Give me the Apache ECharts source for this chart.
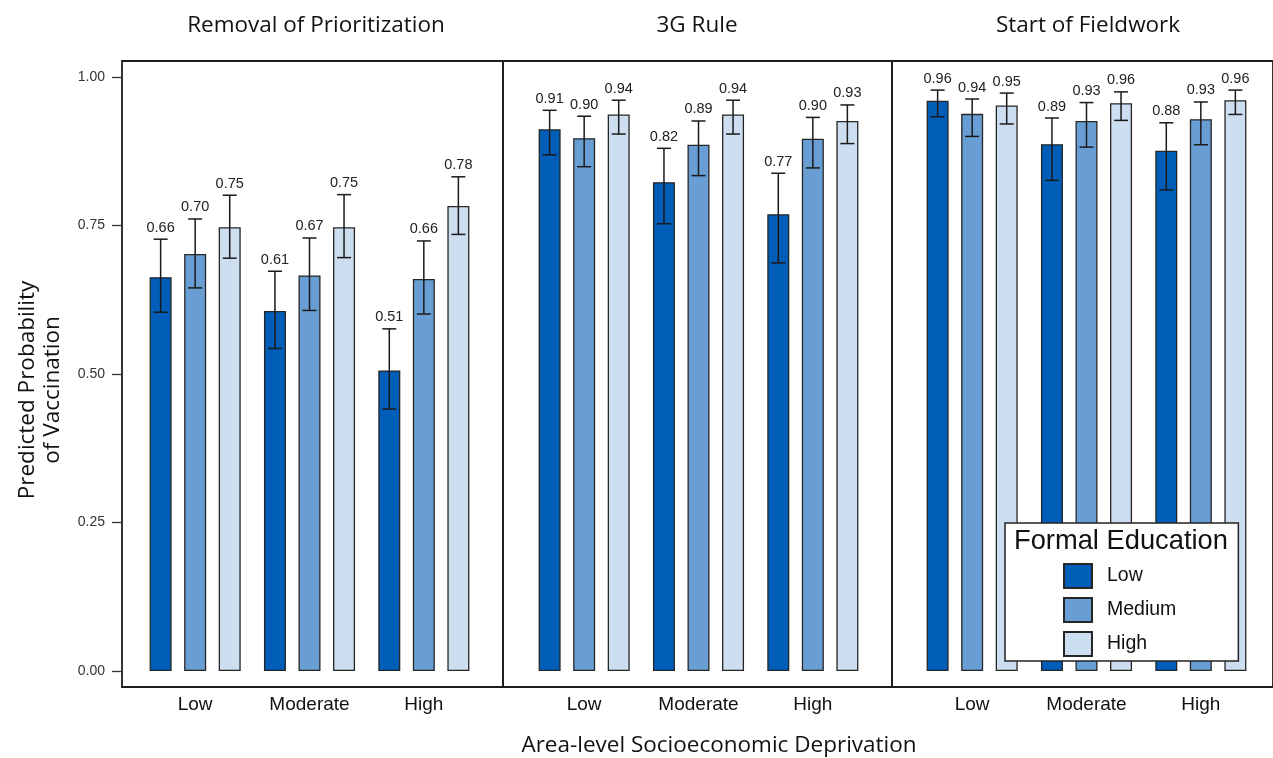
<!DOCTYPE html>
<html>
<head>
<meta charset="utf-8">
<script src="https://cdn.jsdelivr.net/npm/echarts@6/dist/echarts.min.js"></script>
<style>
  html, body { margin: 0; padding: 0; background: #fff; }
  #chart { width: 1273px; height: 758px; }
</style>
</head>
<body>
<div id="chart"></div>
<script>
// Categories
const deprivation = ['Low', 'Moderate', 'High'];
const education = ['Low', 'Medium', 'High'];
const panels = ['Removal of Prioritization', '3G Rule', 'Start of Fieldwork'];
const yTicks = [0, 0.25, 0.5, 0.75, 1];

// Removal of Prioritization: predicted probability and 95% CI per deprivation level
const removalLow = [0.663, 0.606, 0.506];
const removalMedium = [0.702, 0.666, 0.660];
const removalHigh = [0.747, 0.747, 0.783];
const removalLowCI = [[0.604, 0.727], [0.543, 0.673], [0.441, 0.576]];
const removalMediumCI = [[0.645, 0.761], [0.607, 0.729], [0.601, 0.724]];
const removalHighCI = [[0.695, 0.801], [0.696, 0.802], [0.735, 0.832]];

// 3G Rule
const ruleLow = [0.912, 0.823, 0.769];
const ruleMedium = [0.897, 0.886, 0.896];
const ruleHigh = [0.937, 0.937, 0.926];
const ruleLowCI = [[0.869, 0.944], [0.753, 0.880], [0.687, 0.838]];
const ruleMediumCI = [[0.849, 0.934], [0.834, 0.926], [0.847, 0.932]];
const ruleHighCI = [[0.904, 0.961], [0.904, 0.961], [0.888, 0.953]];

// Start of Fieldwork
const fieldLow = [0.960, 0.887, 0.876];
const fieldMedium = [0.938, 0.926, 0.929];
const fieldHigh = [0.952, 0.956, 0.961];
const fieldLowCI = [[0.933, 0.978], [0.826, 0.931], [0.810, 0.923]];
const fieldMediumCI = [[0.900, 0.963], [0.882, 0.957], [0.886, 0.958]];
const fieldHighCI = [[0.921, 0.973], [0.927, 0.975], [0.937, 0.978]];

const panelEstimates = [
  [removalLow, removalMedium, removalHigh],
  [ruleLow, ruleMedium, ruleHigh],
  [fieldLow, fieldMedium, fieldHigh]
];
const panelIntervals = [
  [removalLowCI, removalMediumCI, removalHighCI],
  [ruleLowCI, ruleMediumCI, ruleHighCI],
  [fieldLowCI, fieldMediumCI, fieldHighCI]
];

// Styling and layout
const colors = ['#005EB8', '#689ED4', '#CCDEF0'];
const SANS = '"Liberation Sans", Arial, sans-serif';
const TITLE_FONT = '"Open Sans", sans-serif';
const Y_MIN = -0.027, Y_MAX = 1.027;
const PLOT_TOP = 61, PLOT_H = 626;
const frames = [{ left: 122, width: 381 }, { left: 503, width: 389 }, { left: 892, width: 388 }];
const barAreas = [{ left: 138, width: 343 }, { left: 527, width: 343 }, { left: 915, width: 343 }];
const titleCenters = [316, 697, 1088];
const BAR_W = 22, BAR_GAP = 0.57;
const BAR_PITCH = BAR_W * (1 + BAR_GAP);

const grid = [], xAxis = [], yAxis = [], series = [], title = [];

panels.forEach((name, p) => {
  // frame grid (panel border + y axis on the first panel)
  grid.push({
    left: frames[p].left, width: frames[p].width, top: PLOT_TOP, height: PLOT_H,
    show: true, borderColor: '#1e1e1e', borderWidth: 1.8, backgroundColor: 'transparent'
  });
  // bar grid
  grid.push({ left: barAreas[p].left, width: barAreas[p].width, top: PLOT_TOP, height: PLOT_H });

  xAxis.push({ gridIndex: 2 * p, type: 'value', min: 0, max: 1, show: false });
  yAxis.push({
    gridIndex: 2 * p, type: 'value', min: Y_MIN, max: Y_MAX, show: p === 0,
    axisLine: { show: false },
    axisTick: { show: true, length: 10, customValues: yTicks, lineStyle: { color: '#333', width: 1.3 } },
    axisLabel: {
      show: true, customValues: yTicks, margin: 17,
      formatter: v => v.toFixed(2),
      fontFamily: SANS, fontSize: 14, color: '#333'
    },
    splitLine: { show: false }
  });

  xAxis.push({
    gridIndex: 2 * p + 1, type: 'category', data: deprivation,
    axisLine: { show: false }, axisTick: { show: false },
    axisLabel: { margin: 8, fontFamily: SANS, fontSize: 19, color: '#111' }
  });
  yAxis.push({ gridIndex: 2 * p + 1, type: 'value', min: Y_MIN, max: Y_MAX, show: false, splitLine: { show: false } });

  education.forEach((lvl, l) => {
    series.push({
      name: lvl, type: 'bar', xAxisIndex: 2 * p + 1, yAxisIndex: 2 * p + 1,
      barWidth: BAR_W, barGap: (BAR_GAP * 100) + '%',
      itemStyle: { color: colors[l], borderColor: '#262626', borderWidth: 1.3 },
      data: panelEstimates[p][l],
      silent: true
    });
  });

  // error bars with value labels above the upper whisker
  const errData = [];
  education.forEach((lvl, l) => {
    deprivation.forEach((d, c) => {
      const ci = panelIntervals[p][l][c];
      errData.push([c, l, ci[0], ci[1], panelEstimates[p][l][c]]);
    });
  });
  series.push({
    type: 'custom', xAxisIndex: 2 * p + 1, yAxisIndex: 2 * p + 1, z: 3, silent: true,
    encode: { x: 0, y: [2, 3] },
    data: errData,
    renderItem: (params, api) => {
      const c = api.value(0), l = api.value(1);
      const x = api.coord([c, 0])[0] + (l - 1) * BAR_PITCH;
      const yLo = api.coord([c, api.value(2)])[1];
      const yHi = api.coord([c, api.value(3)])[1];
      const stroke = { stroke: '#1a1a1a', lineWidth: 1.5 };
      return {
        type: 'group',
        children: [
          { type: 'line', shape: { x1: x, y1: yLo, x2: x, y2: yHi }, style: stroke },
          { type: 'line', shape: { x1: x - 7, y1: yHi, x2: x + 7, y2: yHi }, style: stroke },
          { type: 'line', shape: { x1: x - 7, y1: yLo, x2: x + 7, y2: yLo }, style: stroke },
          {
            type: 'text', x: x, y: yHi - 4,
            style: {
              text: api.value(4).toFixed(2), align: 'center', verticalAlign: 'bottom',
              fontFamily: SANS, fontSize: 14.5, fill: '#222'
            }
          }
        ]
      };
    }
  });

  title.push({
    text: name, left: titleCenters[p], top: 14, textAlign: 'center', padding: 0,
    textStyle: { fontFamily: TITLE_FONT, fontSize: 22.5, fontWeight: 'normal', color: '#111' }
  });
});

title.push({
  text: 'Area-level Socioeconomic Deprivation', left: 719, top: 734, textAlign: 'center', padding: 0,
  textStyle: { fontFamily: TITLE_FONT, fontSize: 22.5, fontWeight: 'normal', color: '#111' }
});
title.push({
  text: 'Formal Education', left: 1014, top: 528, padding: 0, z: 10,
  textStyle: { fontFamily: SANS, fontSize: 27.3, fontWeight: 'normal', color: '#111' }
});

const chart = echarts.init(document.getElementById('chart'), null, { renderer: 'canvas' });
chart.setOption({
  animation: false,
  backgroundColor: '#fff',
  title,
  grid, xAxis, yAxis, series,
  legend: {
    data: education, orient: 'vertical', left: 1005, top: 523,
    padding: [40, 62, 4, 58], itemWidth: 28, itemHeight: 24, itemGap: 8,
    icon: 'rect', selectedMode: false,
    backgroundColor: '#fff', borderColor: '#222', borderWidth: 1.5, borderRadius: 0,
    textStyle: { fontFamily: SANS, fontSize: 19.5, color: '#111', padding: [0, 0, 0, 10] }
  },
  graphic: [{
    type: 'text', x: 40, y: 390, rotation: Math.PI / 2,
    style: {
      text: 'Predicted Probability\nof Vaccination', align: 'center', verticalAlign: 'middle',
      fontFamily: TITLE_FONT, fontSize: 22.5, lineHeight: 25, fill: '#111'
    }
  }]
});
</script>
</body>
</html>
